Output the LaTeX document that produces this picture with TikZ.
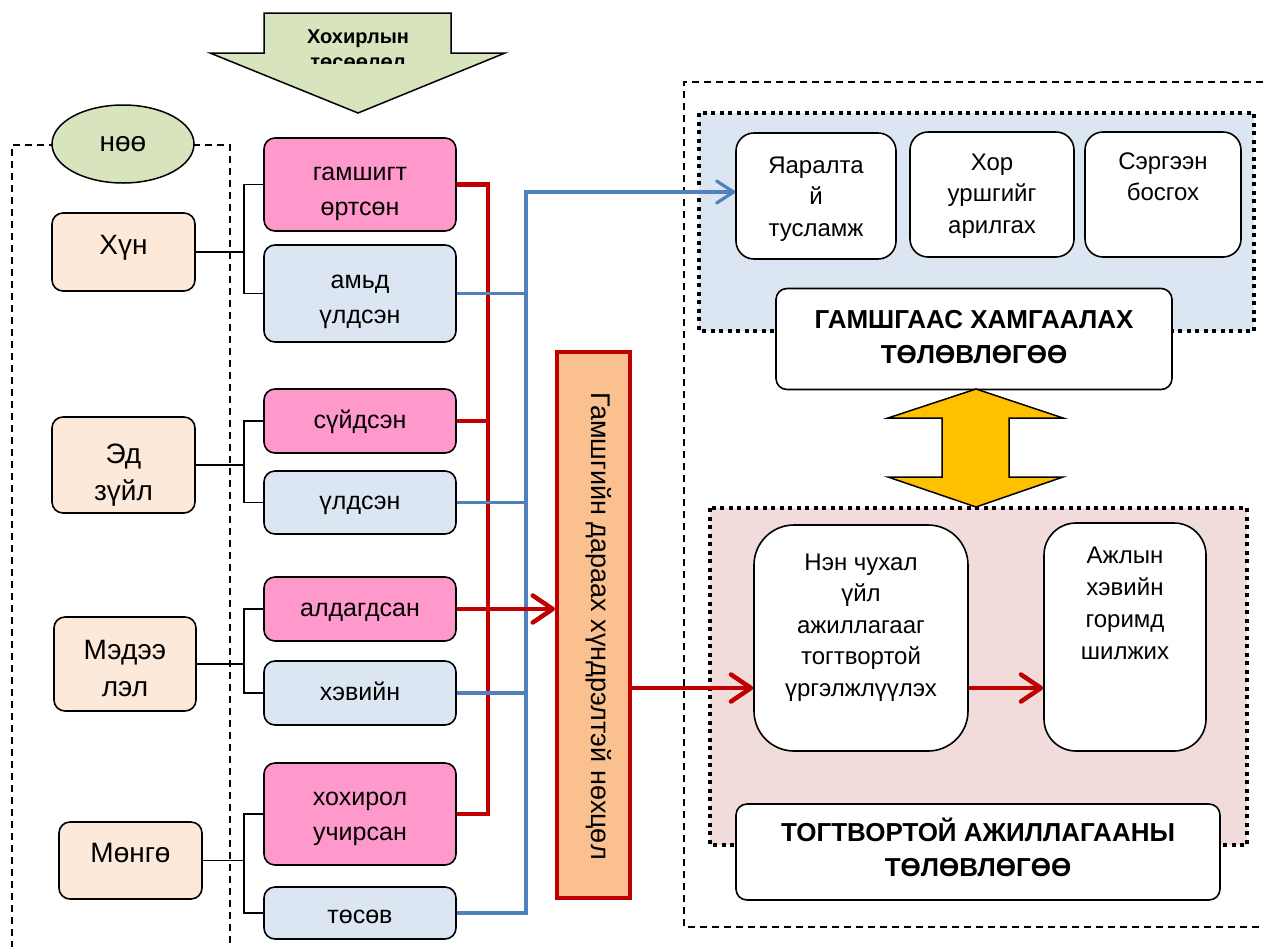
\documentclass[tikz,border=0pt]{standalone}
\usepackage{fontspec}
\setmainfont{Liberation Sans}
\usetikzlibrary{arrows.meta,shapes.geometric}
\definecolor{pinkb}{HTML}{FF99CC}
\definecolor{lblue}{HTML}{DCE6F2}
\definecolor{peach}{HTML}{FDE9D9}
\definecolor{lgreen}{HTML}{D7E4BD}
\definecolor{orng}{HTML}{FAC090}
\definecolor{dred}{HTML}{C00000}
\definecolor{lnblue}{HTML}{4F81BD}
\definecolor{yel}{HTML}{FFC000}
\definecolor{ppanel}{HTML}{F2DCDB}
% strut with extra height on top (pushes a text block down by half of #1)
\newcommand\hiStrut[1]{\rule[-.3\baselineskip]{0pt}{\dimexpr\baselineskip+#1\relax}}
% strut with extra depth (pushes a text block up by half of #1)
\newcommand\loStrut[1]{\rule[-\dimexpr.3\baselineskip+#1\relax]{0pt}{\dimexpr\baselineskip+#1\relax}}
\begin{document}
\begin{tikzpicture}[x=1pt,y=-1pt,
  rbox/.style={draw=black,line width=1.6pt,rounded corners=11pt,inner sep=0pt,align=center},
  cat/.style={rbox,fill=peach,minimum width=143pt,font=\fontsize{28}{37}\selectfont},
  pk/.style={rbox,fill=pinkb,minimum width=192pt,font=\fontsize{25}{35}\selectfont},
  bl/.style={rbox,fill=lblue,minimum width=192pt,font=\fontsize{25}{35}\selectfont},
  wb/.style={rbox,fill=white},
  ttl/.style={wb,font=\bfseries\fontsize{26}{35}\selectfont},
  txt/.style={inner sep=0pt,align=center,anchor=north,font=\fontsize{24}{31.5}\selectfont},
  brk/.style={draw=black,line width=1.5pt},
  redl/.style={draw=dred,line width=4.5pt},
  redarr/.style={redl,-{Straight Barb[length=20pt,width=27pt,round]}},
  bluel/.style={draw=lnblue,line width=3.2pt},
  bluearr/.style={bluel,-{Straight Barb[length=17pt,width=22pt,round]}},
  dashedl/.style={draw=black,line width=1.4pt,dash pattern=on 7pt off 5pt},
  dotb/.style={draw=black,line width=4pt,dash pattern=on 4pt off 4.5pt}
]
\useasboundingbox (0,0) rectangle (1263,946);
\fill[white] (0,0) rectangle (1263,946);

% outer dashed frame (right side)
\draw[dashedl] (1275,82) -- (684,82) -- (684,927) -- (1275,927);
% panels
\draw[dotb,fill=lblue] (699,113) rectangle (1254,331);
\draw[dotb,fill=ppanel] (710,508) rectangle (1247,845);
% left dashed frame
\draw[dashedl] (12,960) -- (12,145) -- (230,145) -- (230,960);

% top arrow
\draw[fill=lgreen,line width=1.5pt] (264,13) -- (451,13) -- (451,53) -- (505,53) -- (358,113) -- (210,53) -- (264,53) -- cycle;
\begin{scope}
\clip (200,0) rectangle (520,63);
\node[inner sep=0pt,align=center,anchor=north,font=\bfseries\fontsize{20}{25}\selectfont] (tarr) at (358,25.5) {Хохирлын\strut\\төсөөлөл\strut};
\end{scope}

% ellipse
\node[ellipse,draw=black,fill=lgreen,line width=1.5pt,minimum width=142pt,minimum height=78pt,inner sep=0pt,font=\fontsize{28}{37}\selectfont] (nee) at (123,144) {нөө\strut};

% left categories
\node[cat,minimum height=78pt] (hun) at (123.5,252) {Хүн\loStrut{10pt}};
\node[cat,minimum height=96pt] (ed) at (123.5,465) {Эд\hiStrut{20pt}\\зүйл\strut};
\node[cat,minimum width=142pt,minimum height=94pt] (med) at (125,664) {Мэдээ\hiStrut{14pt}\\лэл\strut};
\node[cat,minimum height=77pt] (mon) at (130.5,860.5) {Мөнгө\loStrut{10pt}};

% middle boxes
\node[pk,minimum height=93pt] (g1) at (360,184.5) {гамшигт\hiStrut{13pt}\\өртсөн\strut};
\node[bl,minimum height=97pt] (b1) at (360,293.5) {амьд\hiStrut{10pt}\\үлдсэн\strut};
\node[pk,minimum height=64pt] (g2) at (360,421) {сүйдсэн\strut};
\node[bl,minimum height=63pt] (b2) at (360,502.5) {үлдсэн\strut};
\node[pk,minimum height=64pt] (g3) at (360,609) {алдагдсан\strut};
\node[bl,minimum height=64pt] (b3) at (360,693) {хэвийн\strut};
\node[pk,minimum height=102pt] (g4) at (360,814) {хохирол\hiStrut{4pt}\\учирсан\strut};
\node[bl,minimum height=52pt] (b4) at (360,913) {төсөв\hiStrut{6pt}};

% orange vertical box
\node[draw=dred,line width=4pt,fill=orng,minimum width=73pt,minimum height=546pt,inner sep=0pt] (orb) at (593.5,625) {};
\node[rotate=-90,inner sep=0pt,font=\fontsize{27}{32}\selectfont] (ort) at (599,626) {Гамшгийн дараах хүндрэлтэй нөхцөл};

% right upper boxes
\node[wb,minimum width=160pt,minimum height=126pt,rounded corners=18pt] (yar) at (816,196) {};
\node[txt] (yart) at (816,151) {Яаралта\strut\\й\strut\\тусламж\strut};
\node[wb,minimum width=164pt,minimum height=125pt,rounded corners=18pt] (hor) at (992,194.5) {};
\node[txt] (hort) at (992,148) {Хор\strut\\уршгийг\strut\\арилгах\strut};
\node[wb,minimum width=156pt,minimum height=125pt,rounded corners=18pt] (ser) at (1163,194.5) {};
\node[txt] (sert) at (1163,147) {Сэргээн\strut\\босгох\strut};
\node[ttl,minimum width=396pt,minimum height=101pt] (gam) at (974,339) {ГАМШГААС ХАМГААЛАХ\strut\\ТӨЛӨВЛӨГӨӨ\strut};

% yellow double arrow
\draw[fill=yel,line width=1.5pt] (976,389) -- (1063,418) -- (1009,418) -- (1009,477) -- (1063,477) -- (976,507) -- (888,477) -- (942,477) -- (942,418) -- (888,418) -- cycle;

% right lower boxes
\node[wb,minimum width=214pt,minimum height=226pt,rounded corners=40pt] (nen) at (861,638) {};
\node[txt] (nent) at (861,548) {Нэн чухал\strut\\үйл\strut\\ажиллагааг\strut\\тогтвортой\strut\\үргэлжлүүлэх\strut};
\node[wb,minimum width=162pt,minimum height=228pt,rounded corners=32pt] (ajl) at (1125,637) {};
\node[txt,font=\fontsize{24}{32}\selectfont] (ajlt) at (1125,541) {Ажлын\strut\\хэвийн\strut\\горимд\strut\\шилжих\strut};
\node[ttl,minimum width=484pt,minimum height=96pt] (tog) at (978,852) {ТОГТВОРТОЙ АЖИЛЛАГААНЫ\strut\\ТӨЛӨВЛӨГӨӨ\strut};

% connectors
\coordinate (bk) at (244,0);
\coordinate (rx) at (488,0);
\coordinate (bv) at (526,0);
\coordinate (ra) at (0,688);
\coordinate (yin) at ([yshift=4pt]yar.west);
\foreach \c/\p/\q in {hun/g1/b1, ed/g2/b2, med/g3/b3, mon/g4/b4} {
  \draw[brk] (\p.west) -- (\p.west -| bk) -- (\q.west -| bk) -- (\q.west);
  \draw[brk] (\c.east) -- (\c.east -| bk);
}
\draw[redl] (g1.east) -- (g1.east -| rx) -- (g4.east -| rx) -- (g4.east);
\draw[redl] (g2.east) -- (g2.east -| rx);
\draw[bluel] (b1.east) -- (b1.east -| bv);
\draw[bluel] (b2.east) -- (b2.east -| bv);
\draw[bluel] (b3.east) -- (b3.east -| bv);
\draw[bluearr] (b4.east) -- (b4.east -| bv) -- (bv |- yin) -- (yin);
\draw[redarr] (g3.east) -- (g3.east -| orb.west);
\draw[redarr] (orb.east |- ra) -- (nen.west |- ra);
\draw[redarr] (nen.east |- ra) -- (ajl.west |- ra);
\end{tikzpicture}
\end{document}
